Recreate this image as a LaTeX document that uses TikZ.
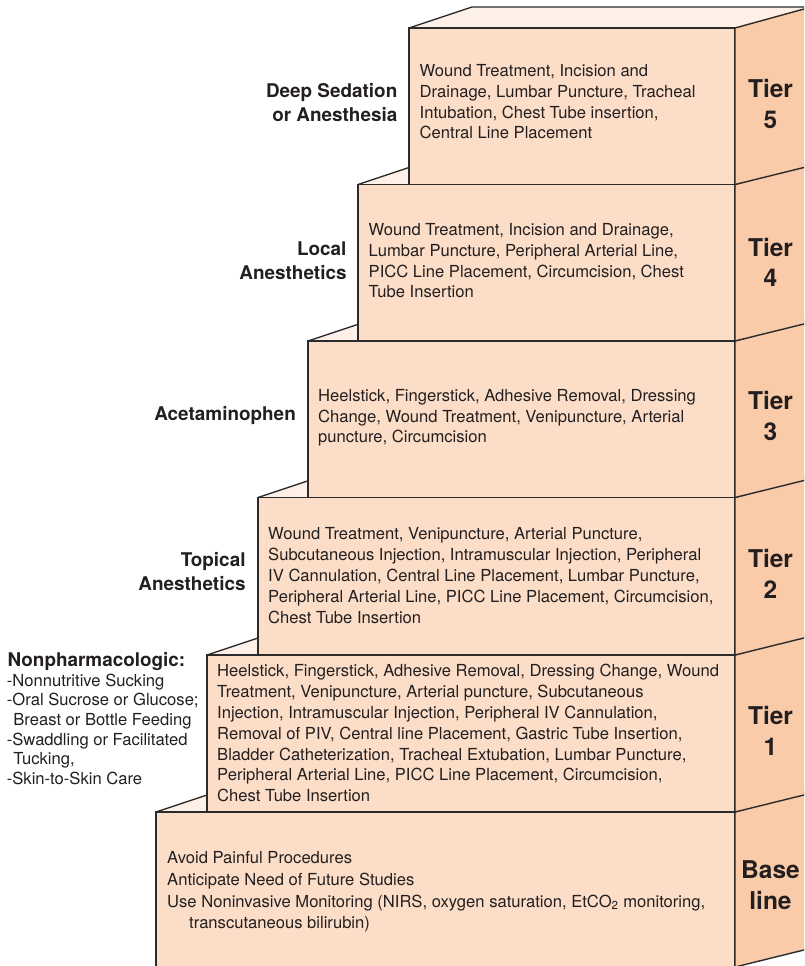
\documentclass[tikz,border=0pt]{standalone}
\usepackage{fontspec}
\setmainfont{TeX Gyre Heros}
\definecolor{front}{HTML}{FCDEC8}
\definecolor{side}{HTML}{F9CBA9}
\definecolor{topf}{HTML}{FEF0E7}
\definecolor{ink}{HTML}{231F20}
\definecolor{edge}{HTML}{2B2B2B}
\begin{document}
\begin{tikzpicture}[x=1pt,y=-1pt,
  boxline/.style={draw=edge, line width=1.4pt, line join=miter},
  bodytxt/.style={font=\fontsize{16.6}{20.8}\selectfont, text=ink, align=left, inner sep=0pt, anchor=north west},
  basetxt/.style={font=\fontsize{16.6}{21.7}\selectfont, text=ink, align=left, inner sep=0pt, anchor=north west},
  listtxt/.style={font=\fontsize{16.6}{19.6}\selectfont, text=ink, align=left, inner sep=0pt, anchor=north west},
  lbl/.style={font=\fontsize{18.9}{24.3}\selectfont\bfseries, text=ink, align=right, inner sep=0pt, anchor=north east},
  lblw/.style={font=\fontsize{18.9}{24.3}\selectfont\bfseries, text=ink, align=left, inner sep=0pt, anchor=north west},
  tierlbl/.style={font=\fontsize{24.5}{30.5}\selectfont\bfseries, text=ink, align=center, inner sep=0pt, anchor=north}]
\useasboundingbox (0,0) rectangle (804,966);
\clip (0,0) rectangle (804,966);
% boxes, drawn from the bottom up
\foreach \xl/\yt/\yb in {156/812/967, 207/655/812, 258/497.5/655, 308/341/497.5, 358/184.5/341, 409/28/184.5} {
  \fill[topf] (\xl,\yt) -- (\xl+63,\yt-21) -- (815,\yt-21) -- (815,\yt-21) -- (735,\yt) -- cycle;
  \draw[boxline] (\xl,\yt) -- (\xl+63,\yt-21) -- (815,\yt-21);
  \filldraw[fill=front, boxline] (\xl,\yt) rectangle (735,\yb);
  \filldraw[fill=side, boxline] (735,\yt) -- (812,\yt-21.2) -- (812,\yb-19) -- (735,\yb) -- cycle;
}
% texts inside the boxes
\node[bodytxt] (t5txt) at (419.5,64.2) {Wound Treatment, Incision and\\Drainage, Lumbar Puncture, Tracheal\\Intubation, Chest Tube insertion,\\Central Line Placement};
\node[bodytxt] (t4txt) at (368.5,223.2) {Wound Treatment, Incision and Drainage,\\Lumbar Puncture, Peripheral Arterial Line,\\PICC Line Placement, Circumcision, Chest\\Tube Insertion};
\node[bodytxt] (t3txt) at (318,388.9) {Heelstick, Fingerstick, Adhesive Removal, Dressing\\Change, Wound Treatment, Venipuncture, Arterial\\puncture, Circumcision};
\node[bodytxt] (t2txt) at (268,527.5) {Wound Treatment, Venipuncture, Arterial Puncture,\\Subcutaneous Injection, Intramuscular Injection, Peripheral\\IV Cannulation, Central Line Placement, Lumbar Puncture,\\Peripheral Arterial Line, PICC Line Placement, Circumcision,\\Chest Tube Insertion};
\node[bodytxt] (t1txt) at (217,664.2) {Heelstick, Fingerstick, Adhesive Removal, Dressing Change, Wound\\Treatment, Venipuncture, Arterial puncture, Subcutaneous\\Injection, Intramuscular Injection, Peripheral IV Cannulation,\\Removal of PIV, Central line Placement, Gastric Tube Insertion,\\Bladder Catheterization, Tracheal Extubation, Lumbar Puncture,\\Peripheral Arterial Line, PICC Line Placement, Circumcision,\\Chest Tube Insertion};
\node[basetxt] (b0txt) at (167,851.4) {Avoid Painful Procedures\\Anticipate Need of Future Studies\\Use Noninvasive Monitoring (NIRS, oxygen saturation, EtCO\textsubscript{2} monitoring,\\\hspace*{22pt}transcutaneous bilirubin)};
% left labels
\node[lbl] (l5) at (397.5,83.4) {Deep Sedation\\or Anesthesia};
\node[lbl] (l4) at (346.7,241.7) {Local\\Anesthetics};
\node[lbl] (l3) at (296,406.7) {Acetaminophen};
\node[lbl] (l2) at (245.7,552.4) {Topical\\Anesthetics};
\node[lblw] (nphead) at (7.3,652.7) {Nonpharmacologic:};
\node[listtxt] (nplist) at (6.7,673.7) {-Nonnutritive Sucking\\-Oral Sucrose or Glucose;\\\hspace*{6.5pt}Breast or Bottle Feeding\\-Swaddling or Facilitated\\\hspace*{6.5pt}Tucking,\\-Skin-to-Skin Care};
% tier labels on the side faces
\node[tierlbl] (s5) at (770.5,79.5) {Tier\\5};
\node[tierlbl] (s4) at (770.5,237.8) {Tier\\4};
\node[tierlbl] (s3) at (770.5,391.1) {Tier\\3};
\node[tierlbl] (s2) at (770.5,549.5) {Tier\\2};
\node[tierlbl] (s1) at (770.5,706.1) {Tier\\1};
\node[tierlbl] (s0) at (770.5,860.8) {Base\\line};
\end{tikzpicture}
\end{document}
